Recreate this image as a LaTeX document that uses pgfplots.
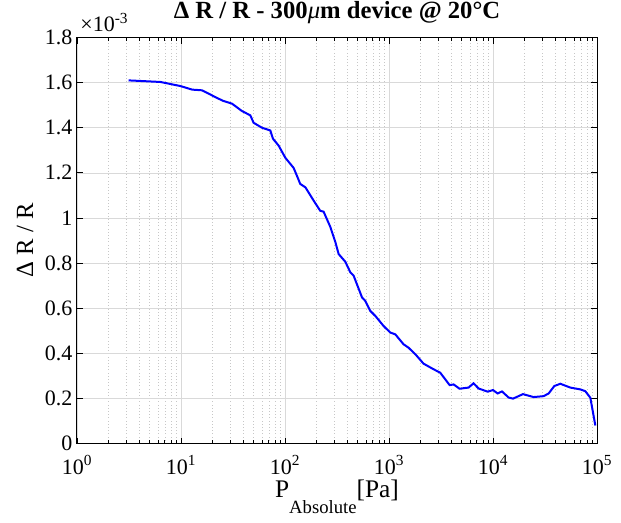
\documentclass[border=0pt]{standalone}
\usepackage{fontspec}
\setmainfont{Liberation Serif}
\usepackage{pgfplots}
\pgfplotsset{compat=1.18}
\begin{document}
\begin{tikzpicture}
\begin{axis}[
  scale only axis,
  width=390pt, height=304.5pt,
  xmode=log, log basis x=10,
  xmin=1, xmax=1e5, ymin=0, ymax=1.8e-3,
  xtick={1,10,100,1000,10000,100000},
  minor xtick={2,3,4,5,6,7,8,9,20,30,40,50,60,70,80,90,200,300,400,500,600,700,800,900,2000,3000,4000,5000,6000,7000,8000,9000,20000,30000,40000,50000,60000,70000,80000,90000},
  xticklabels={10\textsuperscript{0},10\textsuperscript{1},10\textsuperscript{2},10\textsuperscript{3},10\textsuperscript{4},10\textsuperscript{5}},
  ytick={0,0.2e-3,0.4e-3,0.6e-3,0.8e-3,1e-3,1.2e-3,1.4e-3,1.6e-3,1.8e-3},
  yticklabels={0,0.2,0.4,0.6,0.8,1,1.2,1.4,1.6,1.8},
  scaled y ticks=false,
  tick align=inside,
  tick pos=both,
  major tick length=4.5pt, minor tick length=2.5pt,
  xmajorgrids, xminorgrids, ymajorgrids,
  major grid style={black!15, line width=0.5pt},
  minor grid style={black!22, dotted, line width=0.5pt},
  axis line style={line width=0.75pt},
  every tick/.style={black, line width=0.6pt},
  tick label style={font=\fontsize{16.5}{19}\selectfont},
  xticklabel style={yshift=-5.5pt},
  title={\bfseries Δ R / R - 300{\mdseries\itshape μ}m device @ 20°C},
  title style={at={(axis description cs:0.5,1.027)}, anchor=base, yshift=0pt, font=\fontsize{18.5}{21}\selectfont, inner sep=0pt},
  xlabel={P\raisebox{-0.6em}{\fontsize{14}{15}\selectfont Absolute}[Pa]},
  xlabel style={at={(axis description cs:0.5,-0.134)}, anchor=base, font=\fontsize{19}{21}\selectfont, inner sep=0pt},
  ylabel={Δ R / R},
  ylabel style={at={(axis description cs:-0.1,0.5)}, rotate=0, anchor=center, font=\fontsize{18.5}{20}\selectfont, inner sep=0pt},
  extra description/.code={
    \node[anchor=base west, inner sep=0pt] at (axis description cs:0.006,1.014) {\fontsize{16.5}{19}\selectfont ×10\textsuperscript{-3}};
    \coordinate (sw) at (rel axis cs:0,0);
  },
]
\addplot[blue, line width=1.5pt] table {
x y
3.13 1.610e-3
6.32 1.603e-3
9.85 1.585e-3
12.8 1.569e-3
15.9 1.566e-3
18.3 1.552e-3
22.2 1.532e-3
25.5 1.519e-3
30.9 1.507e-3
38.6 1.474e-3
46.4 1.455e-3
49.9 1.422e-3
60.1 1.400e-3
72.2 1.388e-3
76.7 1.351e-3
86.8 1.321e-3
100.7 1.267e-3
121 1.222e-3
130 1.188e-3
140 1.151e-3
157 1.136e-3
188 1.078e-3
218 1.032e-3
235 1.028e-3
273 0.960e-3
305 0.893e-3
328 0.840e-3
380 0.806e-3
425 0.759e-3
457 0.744e-3
550 0.648e-3
592 0.632e-3
661 0.588e-3
738 0.566e-3
887 0.521e-3
1030 0.492e-3
1150 0.484e-3
1380 0.440e-3
1540 0.425e-3
1790 0.396e-3
2150 0.354e-3
2690 0.329e-3
3110 0.314e-3
3830 0.259e-3
4180 0.262e-3
4770 0.243e-3
5820 0.248e-3
6500 0.267e-3
7270 0.244e-3
8870 0.230e-3
10000 0.237e-3
11070 0.222e-3
12200 0.231e-3
14130 0.204e-3
15570 0.199e-3
19420 0.219e-3
24550 0.206e-3
30670 0.210e-3
34280 0.222e-3
38900 0.255e-3
44400 0.265e-3
55400 0.248e-3
69200 0.240e-3
77200 0.232e-3
86300 0.203e-3
96400 0.080e-3
};
\end{axis}
\pgfresetboundingbox
\path (sw) ++(-57.75pt,-59.6pt) rectangle ++(465.75pt,392.25pt);
\end{tikzpicture}
\end{document}
